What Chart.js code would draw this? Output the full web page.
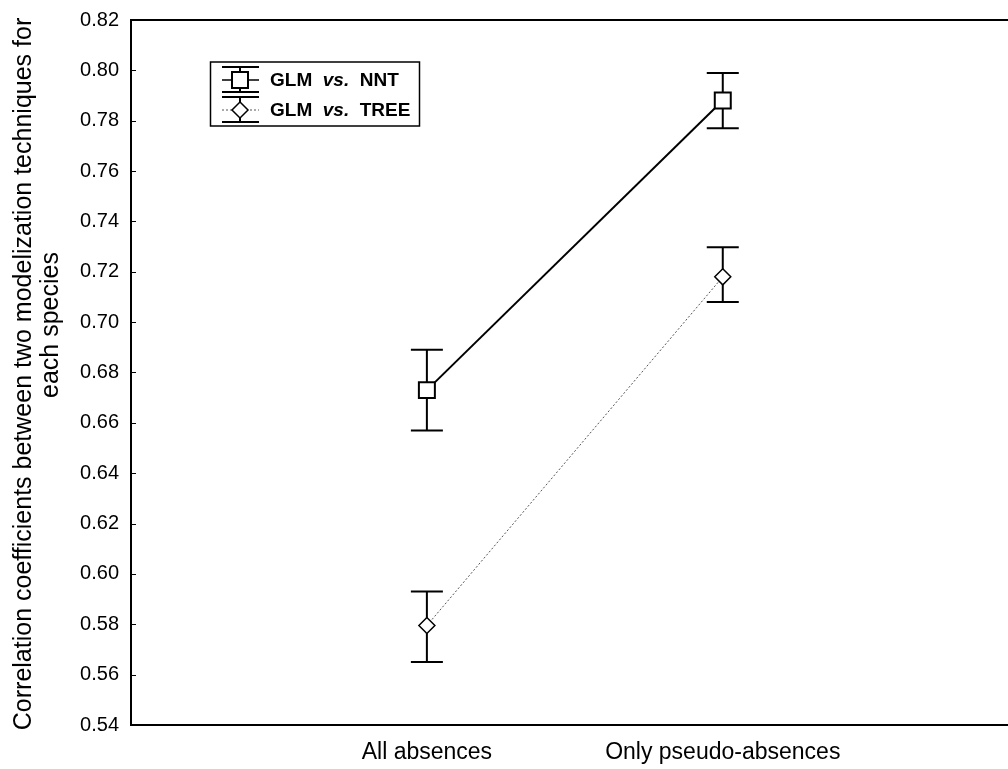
<!DOCTYPE html>
<html>
<head>
<meta charset="utf-8">
<script src="https://cdn.jsdelivr.net/npm/chart.js@4"></script>
<style>
  html, body { margin: 0; padding: 0; background: #fff; overflow: hidden; }
  #wrap { width: 1008px; height: 769px; }
</style>
</head>
<body>
<div id="wrap"><canvas id="chart"></canvas></div>
<script>
// categories on the x axis and the two series (mean with upper / lower whisker)
const categories = ['All absences', 'Only pseudo-absences'];
const seriesNames = ['GLM vs. NNT', 'GLM vs. TREE'];
const nntMean = [0.673, 0.788];
const nntUpper = [0.689, 0.799];
const nntLower = [0.657, 0.777];
const treeMean = [0.5795, 0.718];
const treeUpper = [0.593, 0.7297];
const treeLower = [0.565, 0.708];
const yTickValues = [0.54, 0.56, 0.58, 0.60, 0.62, 0.64, 0.66, 0.68, 0.70, 0.72, 0.74, 0.76, 0.78, 0.80, 0.82];
const yTitle = ['Correlation coefficients between two modelization techniques for', 'each species'];

const FONT = "'Liberation Sans', Arial, Helvetica, sans-serif";
const whiskers = [
    { upper: nntUpper, lower: nntLower },
    { upper: treeUpper, lower: treeLower }
];

// error bars, inward ticks, top frame line, axis title and the legend box
const extras = {
    id: 'extras',
    beforeDatasetsDraw(chart) {
        const ctx = chart.ctx;
        const xs = chart.scales.x, ys = chart.scales.y;
        ctx.save();
        ctx.strokeStyle = '#000';
        ctx.lineWidth = 2;
        whiskers.forEach(w => {
            categories.forEach((c, i) => {
                const x = xs.getPixelForValue(i + 1);
                const yt = ys.getPixelForValue(w.upper[i]);
                const yb = ys.getPixelForValue(w.lower[i]);
                ctx.beginPath();
                ctx.moveTo(x, yt); ctx.lineTo(x, yb);
                ctx.moveTo(x - 16, yt); ctx.lineTo(x + 16, yt);
                ctx.moveTo(x - 16, yb); ctx.lineTo(x + 16, yb);
                ctx.stroke();
            });
        });
        ctx.restore();
    },
    afterDraw(chart) {
        const ctx = chart.ctx;
        const a = chart.chartArea;
        const ys = chart.scales.y;
        ctx.save();
        ctx.strokeStyle = '#000';
        // top frame line
        ctx.lineWidth = 2;
        ctx.beginPath();
        ctx.moveTo(a.left - 1, a.top); ctx.lineTo(chart.width, a.top);
        ctx.stroke();
        // short ticks pointing into the plot
        ctx.lineWidth = 1;
        ctx.beginPath();
        yTickValues.forEach(v => {
            const y = Math.round(ys.getPixelForValue(v)) + 0.5;
            ctx.moveTo(a.left, y); ctx.lineTo(a.left + 5, y);
        });
        ctx.stroke();

        // y axis title, two lines
        ctx.fillStyle = '#000';
        ctx.font = '25px ' + FONT;
        ctx.textAlign = 'center';
        ctx.textBaseline = 'alphabetic';
        ctx.rotate(-Math.PI / 2);
        ctx.fillText(yTitle[0], -374, 31);
        ctx.fillText(yTitle[1], -325, 58);
        ctx.setTransform(1, 0, 0, 1, 0, 0);

        // legend
        ctx.lineWidth = 1.5;
        ctx.strokeRect(210.5, 62, 209, 64);
        seriesNames.forEach((name, i) => {
            const cy = 80 + i * 30;
            const cx = 240;
            ctx.strokeStyle = '#000';
            ctx.lineWidth = 2;
            ctx.setLineDash([]);
            ctx.beginPath();
            ctx.moveTo(222, cy - 13); ctx.lineTo(259, cy - 13);
            ctx.moveTo(222, cy + 12); ctx.lineTo(259, cy + 12);
            ctx.moveTo(cx, cy - 13); ctx.lineTo(cx, cy + 12);
            ctx.stroke();
            ctx.beginPath();
            if (i === 0) { ctx.lineWidth = 1.5; } else { ctx.lineWidth = 1; ctx.strokeStyle = '#555'; ctx.setLineDash([2, 2]); }
            ctx.moveTo(222, cy); ctx.lineTo(259, cy);
            ctx.stroke();
            ctx.setLineDash([]);
            ctx.strokeStyle = '#000';
            ctx.fillStyle = '#fff';
            ctx.beginPath();
            if (i === 0) {
                ctx.lineWidth = 2;
                ctx.rect(cx - 8, cy - 8, 16, 16);
            } else {
                ctx.lineWidth = 1.5;
                ctx.moveTo(cx, cy - 8); ctx.lineTo(cx + 8, cy); ctx.lineTo(cx, cy + 8); ctx.lineTo(cx - 8, cy); ctx.closePath();
            }
            ctx.fill(); ctx.stroke();

            // label: "GLM vs. XXX" with italic "vs."
            const parts = name.split(' vs. ');
            let x = 270;
            ctx.fillStyle = '#000';
            ctx.textAlign = 'left';
            ctx.textBaseline = 'middle';
            ctx.font = 'bold 19px ' + FONT;
            ctx.fillText(parts[0] + '  ', x, cy + 1);
            x += ctx.measureText(parts[0] + '  ').width;
            ctx.font = 'italic bold 19px ' + FONT;
            ctx.fillText('vs.', x, cy + 1);
            x += ctx.measureText('vs.  ').width;
            ctx.font = 'bold 19px ' + FONT;
            ctx.fillText(parts[1], x, cy + 1);
        });
        ctx.restore();
    }
};

new Chart(document.getElementById('chart'), {
    type: 'line',
    data: {
        datasets: [
            {
                label: seriesNames[0],
                data: categories.map((c, i) => ({ x: i + 1, y: nntMean[i] })),
                borderColor: '#000',
                borderWidth: 2,
                pointStyle: 'rect',
                pointRadius: 11.3,
                pointBackgroundColor: '#fff',
                pointBorderColor: '#000',
                pointBorderWidth: 2
            },
            {
                label: seriesNames[1],
                data: categories.map((c, i) => ({ x: i + 1, y: treeMean[i] })),
                borderColor: '#555',
                borderWidth: 1,
                borderDash: [2, 2],
                pointStyle: 'rectRot',
                pointRadius: 8,
                pointBackgroundColor: '#fff',
                pointBorderColor: '#000',
                pointBorderWidth: 1.5
            }
        ]
    },
    options: {
        responsive: true,
        maintainAspectRatio: false,
        animation: false,
        layout: { autoPadding: false, padding: { top: 20, left: 0, right: 0, bottom: 0 } },
        plugins: {
            legend: { display: false },
            tooltip: { enabled: false }
        },
        scales: {
            x: {
                type: 'linear',
                min: 0,
                max: 2.964,
                grid: { display: false, drawTicks: false, tickLength: 0 },
                border: { display: true, color: '#000', width: 2 },
                afterBuildTicks: s => { s.ticks = categories.map((c, i) => ({ value: i + 1 })); },
                afterFit: s => { s.height = 44; s.paddingLeft = 0; s.paddingRight = 0; },
                ticks: {
                    callback: v => categories[v - 1] || '',
                    font: { size: 23, family: FONT },
                    color: '#000',
                    padding: 14,
                    maxRotation: 0,
                    autoSkip: false
                }
            },
            y: {
                type: 'linear',
                min: 0.54,
                max: 0.82,
                grid: { display: false, drawTicks: false, tickLength: 0 },
                border: { display: true, color: '#000', width: 2 },
                afterBuildTicks: s => { s.ticks = yTickValues.map(v => ({ value: v })); },
                afterFit: s => { s.width = 131; s.paddingTop = 0; s.paddingBottom = 0; },
                ticks: {
                    callback: v => v.toFixed(2),
                    font: { size: 20, family: FONT },
                    color: '#000',
                    padding: 12
                }
            }
        }
    },
    plugins: [extras]
});
</script>
</body>
</html>
